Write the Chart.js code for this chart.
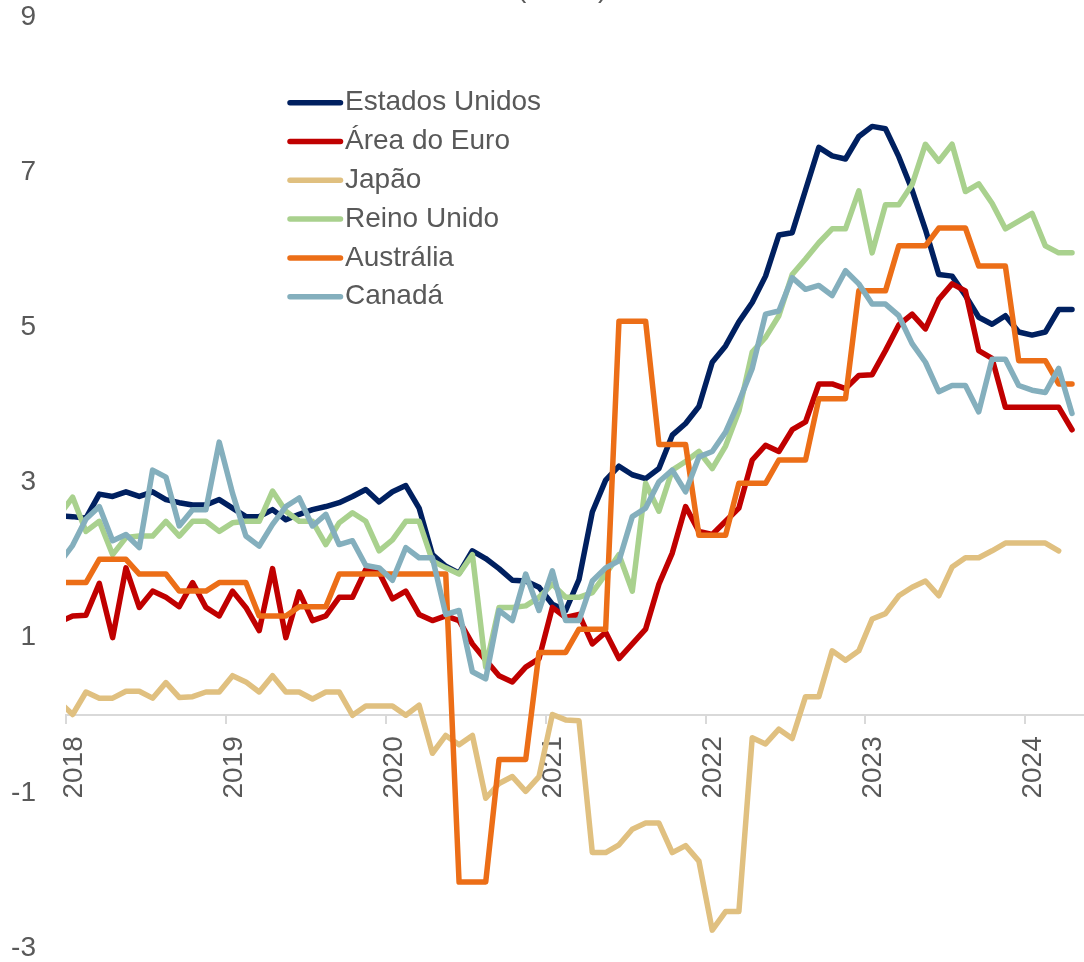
<!DOCTYPE html>
<html><head><meta charset="utf-8">
<script src="https://cdn.jsdelivr.net/npm/chart.js@4.4.1/dist/chart.umd.min.js"></script>
<style>html,body{margin:0;padding:0;background:#fff;overflow:hidden}canvas{display:block}</style>
</head><body>
<canvas id="c" width="1084" height="962"></canvas>
<script>
const months = ['2017-12',
 '2018-01','2018-02','2018-03','2018-04','2018-05','2018-06','2018-07','2018-08','2018-09','2018-10','2018-11','2018-12',
 '2019-01','2019-02','2019-03','2019-04','2019-05','2019-06','2019-07','2019-08','2019-09','2019-10','2019-11','2019-12',
 '2020-01','2020-02','2020-03','2020-04','2020-05','2020-06','2020-07','2020-08','2020-09','2020-10','2020-11','2020-12',
 '2021-01','2021-02','2021-03','2021-04','2021-05','2021-06','2021-07','2021-08','2021-09','2021-10','2021-11','2021-12',
 '2022-01','2022-02','2022-03','2022-04','2022-05','2022-06','2022-07','2022-08','2022-09','2022-10','2022-11','2022-12',
 '2023-01','2023-02','2023-03','2023-04','2023-05','2023-06','2023-07','2023-08','2023-09','2023-10','2023-11','2023-12',
 '2024-01','2024-02','2024-03','2024-04'];
const yearLabels = ['2018','2019','2020','2021','2022','2023','2024'];

const estadosUnidos = [2.57,
 2.56,2.54,2.85,2.82,2.88,2.82,2.88,2.78,2.74,2.71,2.71,2.78,
 2.67,2.56,2.56,2.65,2.52,2.59,2.65,2.69,2.74,2.82,2.91,2.75,
 2.88,2.96,2.67,2.07,1.92,1.83,2.12,2.02,1.89,1.74,1.73,1.65,
 1.43,1.35,1.75,2.62,3.03,3.21,3.10,3.05,3.18,3.61,3.76,3.98,
 4.55,4.76,5.07,5.32,5.66,6.19,6.22,6.77,7.32,7.21,7.17,7.46,
 7.59,7.56,7.20,6.77,6.26,5.68,5.66,5.41,5.13,5.04,5.15,4.94,
 4.90,4.94,5.23,5.23];
const areaDoEuro = [1.20,
 1.28,1.29,1.70,1.00,1.90,1.39,1.60,1.52,1.40,1.71,1.39,1.28,
 1.60,1.39,1.09,1.89,1.00,1.59,1.22,1.28,1.52,1.52,1.88,1.84,
 1.50,1.60,1.30,1.22,1.28,1.22,0.92,0.71,0.51,0.43,0.62,0.73,
 1.39,1.26,1.30,0.92,1.07,0.73,0.92,1.11,1.69,2.09,2.69,2.37,
 2.33,2.50,2.67,3.29,3.48,3.40,3.68,3.78,4.27,4.27,4.21,4.38,
 4.39,4.70,5.03,5.17,4.98,5.36,5.56,5.47,4.70,4.60,3.97,3.97,
 3.97,3.97,3.97,3.68];
const japao = [0.17,
 0.01,0.30,0.22,0.22,0.31,0.31,0.22,0.42,0.23,0.24,0.30,0.30,
 0.51,0.43,0.30,0.51,0.30,0.30,0.21,0.30,0.30,0.00,0.12,0.12,
 0.12,0.00,0.13,-0.49,-0.26,-0.38,-0.26,-1.07,-0.88,-0.79,-0.98,-0.79,
 0.01,-0.06,-0.07,-1.77,-1.77,-1.67,-1.47,-1.39,-1.39,-1.77,-1.68,-1.88,
 -2.77,-2.53,-2.53,-0.29,-0.37,-0.18,-0.30,0.24,0.24,0.83,0.71,0.83,
 1.24,1.31,1.54,1.65,1.73,1.54,1.91,2.03,2.03,2.12,2.22,2.22,
 2.22,2.22,2.12,null];
const reinoUnido = [2.58,
 2.81,2.37,2.50,2.07,2.29,2.31,2.31,2.50,2.31,2.50,2.50,2.37,
 2.48,2.50,2.50,2.89,2.63,2.50,2.50,2.20,2.48,2.61,2.50,2.12,
 2.26,2.50,2.50,1.99,1.90,1.82,2.07,0.62,1.39,1.39,1.41,1.52,
 1.69,1.52,1.52,1.58,1.82,2.07,1.60,2.99,2.63,3.16,3.27,3.40,
 3.18,3.47,3.92,4.68,4.87,5.15,5.68,5.88,6.09,6.27,6.27,6.76,
 5.96,6.58,6.58,6.84,7.36,7.14,7.36,6.75,6.85,6.60,6.27,6.37,
 6.47,6.05,5.96,5.96];
const australia = [1.71,
 1.71,1.71,2.01,2.01,2.01,1.82,1.82,1.82,1.60,1.60,1.60,1.71,
 1.71,1.71,1.28,1.28,1.28,1.40,1.40,1.40,1.82,1.82,1.82,1.82,
 1.82,1.82,1.82,1.82,1.82,-2.15,-2.15,-2.15,-0.57,-0.57,-0.57,0.81,
 0.81,0.81,1.11,1.11,1.11,5.08,5.08,5.08,3.49,3.49,3.49,2.32,
 2.32,2.32,2.99,2.99,2.99,3.29,3.29,3.29,4.08,4.08,4.08,5.47,
 5.47,5.47,6.05,6.05,6.05,6.28,6.28,6.28,5.79,5.79,5.79,4.57,
 4.57,4.57,4.27,4.27];
const canada = [1.96,
 2.19,2.53,2.69,2.25,2.33,2.16,3.16,3.07,2.44,2.65,2.65,3.52,
 2.86,2.31,2.18,2.46,2.69,2.80,2.44,2.59,2.20,2.25,1.93,1.90,
 1.74,2.16,2.03,2.03,1.30,1.35,0.56,0.47,1.35,1.22,1.82,1.35,
 1.86,1.22,1.22,1.73,1.90,1.99,2.56,2.67,3.01,3.16,2.88,3.33,
 3.40,3.65,4.04,4.47,5.17,5.21,5.64,5.49,5.54,5.41,5.73,5.56,
 5.30,5.30,5.15,4.79,4.55,4.17,4.25,4.25,3.91,4.59,4.59,4.25,
 4.19,4.16,4.47,3.89];

const seriesNames = ['Estados Unidos','Área do Euro','Japão','Reino Unido','Austrália','Canadá'];
const seriesValues = [estadosUnidos, areaDoEuro, japao, reinoUnido, australia, canada];
const seriesColors = ['#002060','#C00000','#E0C080','#A9D18E','#EC6E17','#84AFBD'];

// month position (months since Jan 2018, centred in the month)
function monthPos(m){ const [y,mm] = m.split('-').map(Number); return (y-2018)*12 + (mm-1) + 0.5; }

const FONT = 'Liberation Sans';
const TXT = '#595959';
const LW = 5.5;

const insideLegend = {
  id: 'insideLegend',
  afterDraw(chart){
    const ctx = chart.ctx;
    ctx.save();
    chart.data.datasets.forEach((ds, k) => {
      const y = 102.7 + k * 38.8;
      ctx.strokeStyle = ds.borderColor;
      ctx.lineWidth = LW;
      ctx.lineCap = 'round';
      ctx.beginPath(); ctx.moveTo(290, y); ctx.lineTo(340.5, y); ctx.stroke();
      ctx.fillStyle = TXT;
      ctx.font = '28px "' + FONT + '"';
      ctx.textBaseline = 'middle';
      ctx.textAlign = 'left';
      ctx.fillText(ds.label, 345, y);
    });
    ctx.textBaseline = 'alphabetic';
    ctx.fillText('(% a/a)', 517, -3);
    ctx.restore();
  }
};

new Chart(document.getElementById('c'), {
  type: 'line',
  data: {
    datasets: seriesNames.map((name, k) => ({
      label: name,
      data: seriesValues[k].map((v, i) => ({x: monthPos(months[i]), y: v})),
      borderColor: seriesColors[k],
      backgroundColor: seriesColors[k],
      borderWidth: LW,
      pointRadius: 0,
      tension: 0,
      borderJoinStyle: 'round',
      borderCapStyle: 'round',
      fill: false,
      order: seriesNames.length - k
    }))
  },
  options: {
    responsive: false,
    animation: false,
    layout: {padding: {left: 0, right: 0, top: 17, bottom: 14}},
    plugins: {legend: {display: false}, tooltip: {enabled: false}, title: {display: false}},
    scales: {
      x: {
        type: 'linear', min: 0, max: 76.4,
        position: {y: 0},
        afterBuildTicks: s => { s.ticks = yearLabels.map((_, k) => ({value: 12 * k})); },
        afterFit: s => { s.paddingLeft = 0; s.paddingRight = 0; },
        ticks: {
          autoSkip: false, minRotation: 90, maxRotation: 90, padding: 13, labelOffset: 8,
          color: TXT, font: {family: FONT, size: 28},
          callback: v => { const k = Math.round(v / 12); return yearLabels[k] !== undefined ? yearLabels[k] : ''; }
        },
        grid: {display: true, drawOnChartArea: false, drawTicks: true, tickLength: 8, color: '#d9d9d9', lineWidth: 2},
        border: {display: true, color: '#d9d9d9', width: 2}
      },
      y: {
        type: 'linear', min: -3, max: 9,
        afterFit: s => { s.width = 66; s.paddingTop = 0; s.paddingBottom = 0; },
        ticks: {stepSize: 2, padding: 30, color: TXT, font: {family: FONT, size: 28}},
        grid: {display: false, drawTicks: false},
        border: {display: false}
      }
    }
  },
  plugins: [insideLegend]
});
</script>
</body></html>
